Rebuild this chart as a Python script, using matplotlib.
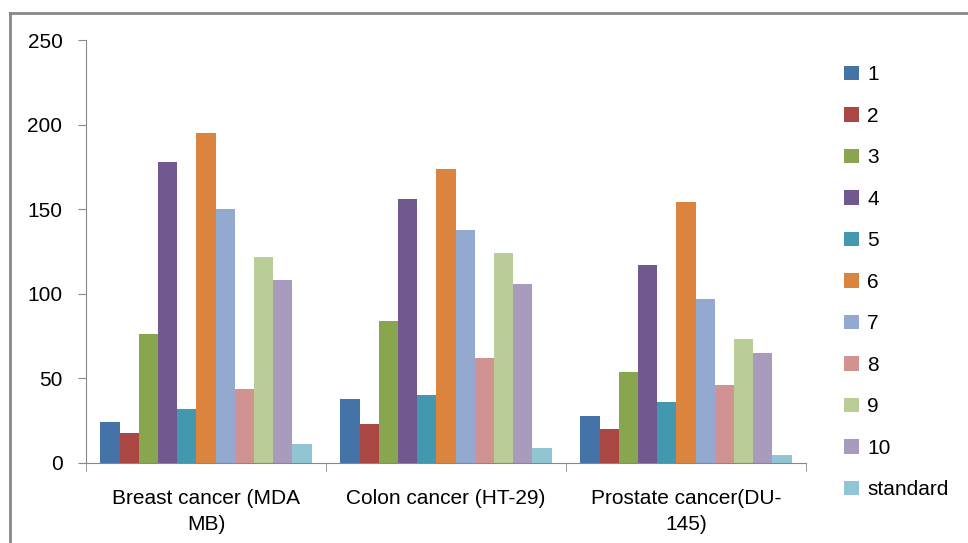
import numpy as np
import matplotlib
matplotlib.use('Agg')
import matplotlib.pyplot as plt
from matplotlib.lines import Line2D

plt.rcParams['font.family'] = ['Liberation Sans', 'DejaVu Sans']

categories = ['Breast cancer (MDA\nMB)', 'Colon cancer (HT-29)', 'Prostate cancer(DU-\n145)']
series = ['1', '2', '3', '4', '5', '6', '7', '8', '9', '10', 'standard']
values = {
    '1':  [24, 38, 28],
    '2':  [18, 23, 20],
    '3':  [76, 84, 54],
    '4':  [178, 156, 117],
    '5':  [32, 40, 36],
    '6':  [195, 174, 154],
    '7':  [150, 138, 97],
    '8':  [44, 62, 46],
    '9':  [122, 124, 73],
    '10': [108, 106, 65],
    'standard': [11, 9, 5],
}
colors = ['#4572A7', '#AA4643', '#89A54E', '#71588F', '#4198AF', '#DB843D',
          '#93A9CF', '#D19392', '#B9CD96', '#A99BBD', '#92C5D4']

fig = plt.figure(figsize=(9.68, 5.43), dpi=100)
ax = fig.add_axes([86/968, 80/543, 720/968, 423/543])

x = np.arange(len(categories))
w = 0.08
n = len(series)
for i, s in enumerate(series):
    ax.bar(x + (i - (n - 1) / 2) * w, values[s], w, color=colors[i], label=s)

ax.set_xlim(-0.5, 2.5)
ax.set_ylim(0, 250)
ax.set_yticks(range(0, 251, 50))
ax.set_xticks(x)
ax.set_xticklabels(categories, fontsize=15, linespacing=1.45)
ax.set_xticks([-0.5, 0.5, 1.5, 2.5], minor=True)
ax.tick_params(axis='x', which='major', length=0, pad=19)
ax.tick_params(axis='x', which='minor', length=6, color='#888888', direction='out')
ax.tick_params(axis='y', length=6, color='#888888', labelsize=15, pad=11)
for sp in ['top', 'right']:
    ax.spines[sp].set_visible(False)
for sp in ['left', 'bottom']:
    ax.spines[sp].set_color('#888888')

leg = fig.legend(loc='upper left', bbox_to_anchor=(836/968, 1 - 57/543), frameon=False,
                 fontsize=15, handlelength=0.7, handleheight=0.7, handletextpad=0.4,
                 labelspacing=1.08, borderaxespad=0)

# outer gray frame
fig.add_artist(Line2D([10/968, 1], [1 - 13/543, 1 - 13/543], color='#888888', lw=2, transform=fig.transFigure))
fig.add_artist(Line2D([10/968, 10/968], [0, 1 - 13/543], color='#888888', lw=2, transform=fig.transFigure))

fig.savefig('out.png', dpi=100)
